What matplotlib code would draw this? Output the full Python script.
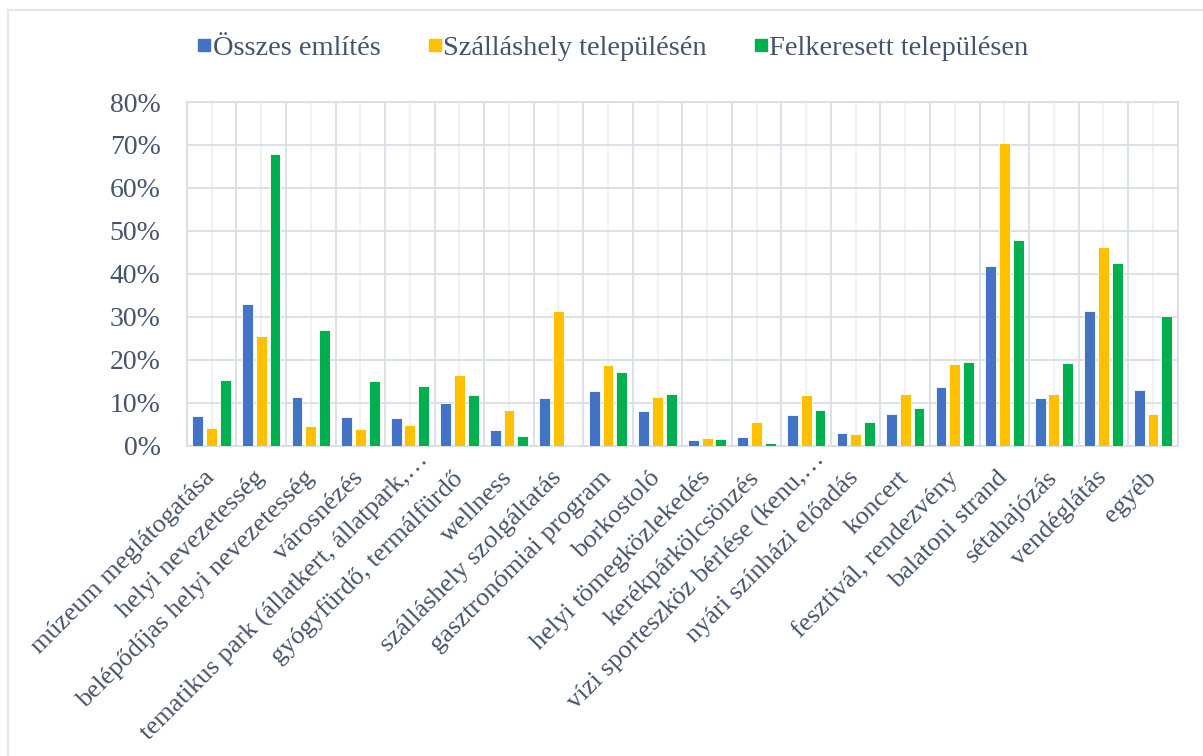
import numpy as np
import matplotlib.pyplot as plt
import matplotlib.transforms as mtransforms
from matplotlib.lines import Line2D
from matplotlib.ticker import MultipleLocator, FuncFormatter

categories = [
    'múzeum meglátogatása', 'helyi nevezetesség', 'belépődíjas helyi nevezetesség',
    'városnézés', 'tematikus park (állatkert, állatpark,…', 'gyógyfürdő, termálfürdő',
    'wellness', 'szálláshely szolgáltatás', 'gasztronómiai program', 'borkostoló',
    'helyi tömegközlekedés', 'kerékpárkölcsönzés', 'vízi sporteszköz bérlése (kenu,…',
    'nyári színházi előadás', 'koncert', 'fesztivál, rendezvény', 'balatoni strand',
    'sétahajózás', 'vendéglátás', 'egyéb',
]
osszes = [6.8, 32.9, 11.2, 6.7, 6.5, 9.8, 3.6, 11.0, 12.7, 8.0,
          1.2, 2.0, 7.0, 3.0, 7.3, 13.6, 41.7, 11.0, 31.3, 13.0]
szallas = [4.0, 25.5, 4.5, 3.8, 4.7, 16.4, 8.2, 31.3, 18.7, 11.2,
           1.7, 5.4, 11.7, 2.6, 12.0, 19.0, 70.5, 12.0, 46.2, 7.3]
felkeresett = [15.2, 68.0, 27.0, 15.0, 13.8, 11.7, 2.2, 0.2, 17.1, 12.0,
               1.5, 0.5, 8.2, 5.4, 8.8, 19.5, 47.8, 19.3, 42.5, 30.1]
series_names = ['Összes említés', 'Szálláshely településén', 'Felkeresett településen']
colors = ['#4472C4', '#FFC000', '#00B050']

text_color = '#44546A'
grid_color = '#D9DDE5'
plt.rcParams['font.family'] = ['Liberation Serif', 'DejaVu Serif']

fig = plt.figure(figsize=(12.03, 7.56), dpi=100)
ax = fig.add_axes([0.1554, 0.4107, 0.979 - 0.1554, 0.865 - 0.4107])

x = np.arange(len(categories))
offset = 0.278
width = 0.22
for i, (vals, c) in enumerate(zip([osszes, szallas, felkeresett], colors)):
    ax.bar(x + (i - 1) * offset, vals, width, color=c, edgecolor='white',
           linewidth=0.6, zorder=3)

ax.set_xlim(-0.5, len(categories) - 0.5)
ax.set_ylim(0, 80)
ax.yaxis.set_major_locator(MultipleLocator(10))
ax.yaxis.set_major_formatter(FuncFormatter(lambda v, p: '{:.0f}%'.format(v)))

# grid: horizontal every 10%, vertical at category borders and (lighter) centres
ax.grid(axis='y', color=grid_color, lw=1.3, zorder=0)
for b in np.arange(-0.5, len(categories), 1.0):
    ax.axvline(b, color=grid_color, lw=1.3, zorder=0)
for c in x:
    ax.axvline(c, color='#EEF0F4', lw=1.3, zorder=0)
for s in ax.spines.values():
    s.set_color(grid_color)
    s.set_linewidth(1.3)

ax.set_xticks(x)
ax.set_xticklabels(categories, rotation=45, ha='right', rotation_mode='anchor',
                   fontsize=19, color=text_color)
ax.tick_params(axis='x', length=0, pad=8)
ax.tick_params(axis='y', length=0, pad=19, labelsize=20, labelcolor=text_color)

# Excel places the truncated (…) labels a bit higher than the others
for lab in ax.get_xticklabels():
    if lab.get_text().endswith('…'):
        dx, dy = 0.07, 0.08
    else:
        dx, dy = -0.08, -0.10
    lab.set_transform(lab.get_transform() +
                      mtransforms.ScaledTranslation(dx, dy, fig.dpi_scale_trans))

handles = [Line2D([], [], marker='s', ls='none', markersize=9, color=c) for c in colors]
fig.legend(handles, series_names, loc='center', bbox_to_anchor=(0.51, 0.9365), ncol=3,
           frameon=False, fontsize=20.5, handlelength=0.4, handletextpad=0.1,
           columnspacing=1.7, labelcolor=text_color)

# outer chart border (left and top)
fig.add_artist(Line2D([0.0066, 0.0066], [0, 0.987], color='#E3E5E8', lw=1.5,
                      transform=fig.transFigure))
fig.add_artist(Line2D([0.0066, 1.0], [0.987, 0.987], color='#E3E5E8', lw=1.5,
                      transform=fig.transFigure))

fig.savefig('out.png', dpi=100)
